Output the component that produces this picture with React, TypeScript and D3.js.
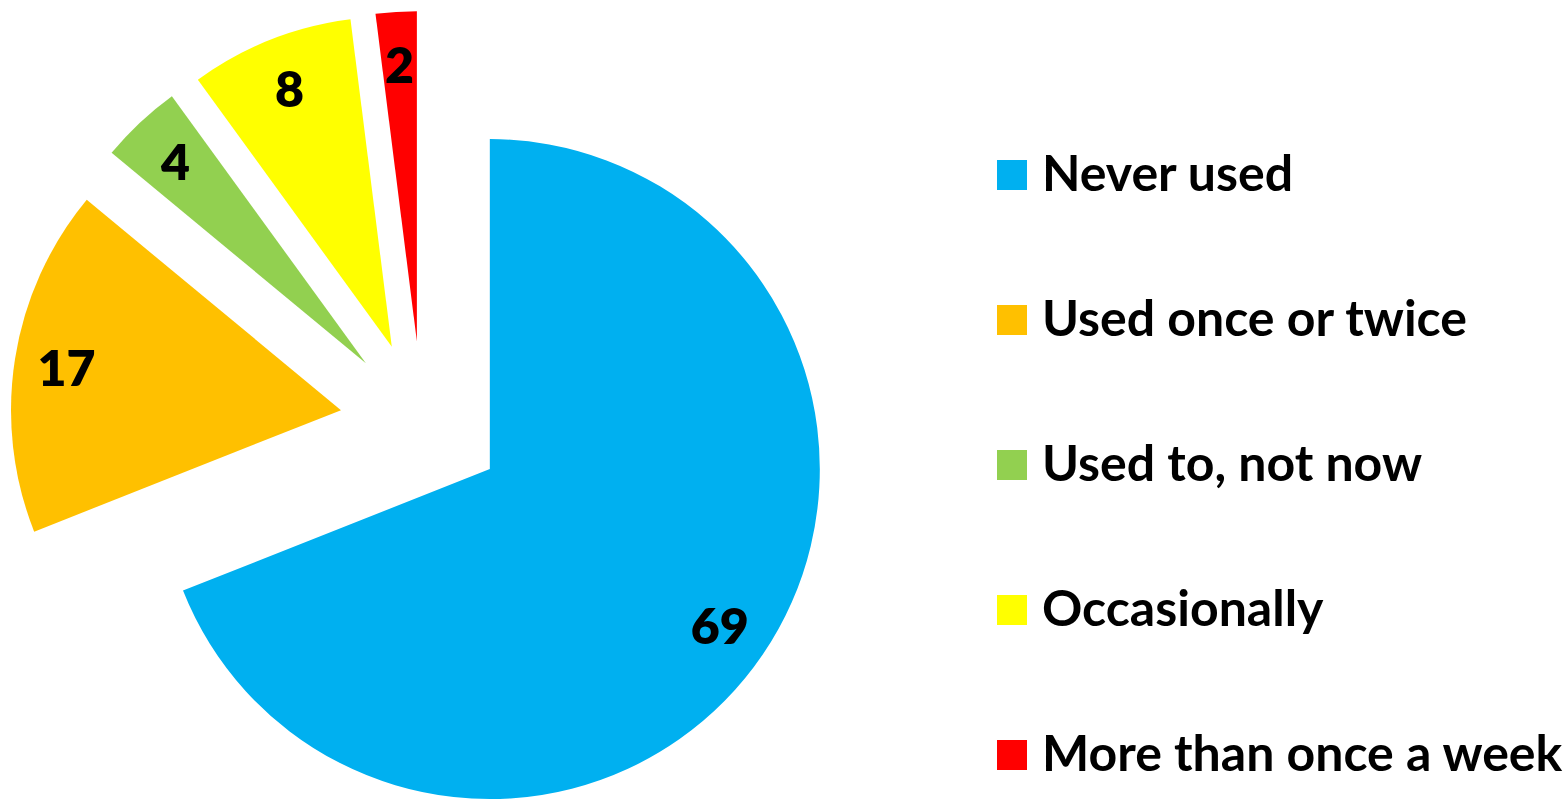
import React from "react";
import * as d3 from "d3";

const categories = ["Never used", "Used once or twice", "Used to, not now", "Occasionally", "More than once a week"];
const values = [69, 17, 4, 8, 2];
const colors = ["#00B0F0", "#FFC000", "#92D050", "#FFFF00", "#FF0000"];

export default function App() {
  const W = 1567, H = 801;
  const cx = 422, cy = 423, R = 330, explode = 82, labelR = 278;
  const pie = d3.pie<number>().sort(null).value((d) => d);
  const arcs = pie(values);
  const arc = d3.arc<d3.PieArcDatum<number>>().innerRadius(0).outerRadius(R);
  const font = "Lato, 'Open Sans', sans-serif";
  return (
    <svg width={W} height={H} style={{ position: "absolute", left: 0, top: 0 }}>
      <rect width={W} height={H} fill="#fff" />
      {arcs.map((a, i) => {
        const mid = (a.startAngle + a.endAngle) / 2;
        const dx = Math.sin(mid) * explode, dy = -Math.cos(mid) * explode;
        const lx = Math.sin(mid) * labelR, ly = -Math.cos(mid) * labelR;
        return (
          <g key={i} transform={`translate(${cx + dx},${cy + dy})`}>
            <path d={arc(a) || ""} fill={colors[i]} />
            <text x={lx} y={ly} textAnchor="middle" dominantBaseline="central"
              fontFamily={font} fontWeight={800} fontSize={50} fill="#000">{values[i]}</text>
          </g>
        );
      })}
      {categories.map((c, i) => {
        const y = 175 + i * 145;
        return (
          <g key={c}>
            <rect x={997} y={y - 15} width={30} height={30} fill={colors[i]} />
            <text x={1042} y={y - 3} dominantBaseline="central" fontFamily={font} fontWeight={700} fontSize={50} fill="#000">{c}</text>
          </g>
        );
      })}
    </svg>
  );
}
